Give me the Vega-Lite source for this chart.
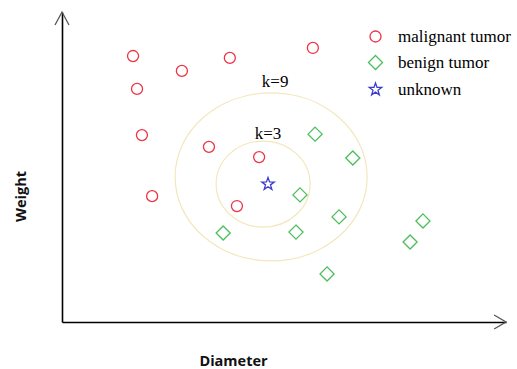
{
  "$schema": "https://vega.github.io/schema/vega-lite/v6.json",
  "width": 444,
  "height": 310,
  "autosize": {"type": "none"},
  "padding": {"left": 62, "top": 12, "right": 11, "bottom": 47},
  "background": "white",
  "config": {"view": {"stroke": null}},
  "datasets": {
    "points": [
      {"diameter": 16.0, "weight": 85.8, "type": "malignant tumor"},
      {"diameter": 27.0, "weight": 81.0, "type": "malignant tumor"},
      {"diameter": 37.8, "weight": 85.2, "type": "malignant tumor"},
      {"diameter": 16.9, "weight": 75.2, "type": "malignant tumor"},
      {"diameter": 18.0, "weight": 60.3, "type": "malignant tumor"},
      {"diameter": 33.1, "weight": 56.5, "type": "malignant tumor"},
      {"diameter": 20.3, "weight": 40.6, "type": "malignant tumor"},
      {"diameter": 39.4, "weight": 37.4, "type": "malignant tumor"},
      {"diameter": 44.4, "weight": 53.2, "type": "malignant tumor"},
      {"diameter": 56.5, "weight": 88.4, "type": "malignant tumor"},
      {"diameter": 57.0, "weight": 60.6, "type": "benign tumor"},
      {"diameter": 65.5, "weight": 52.9, "type": "benign tumor"},
      {"diameter": 53.6, "weight": 41.0, "type": "benign tumor"},
      {"diameter": 36.3, "weight": 28.7, "type": "benign tumor"},
      {"diameter": 52.7, "weight": 29.0, "type": "benign tumor"},
      {"diameter": 62.4, "weight": 33.9, "type": "benign tumor"},
      {"diameter": 78.4, "weight": 25.8, "type": "benign tumor"},
      {"diameter": 81.3, "weight": 32.6, "type": "benign tumor"},
      {"diameter": 59.7, "weight": 15.5, "type": "benign tumor"},
      {"diameter": 46.4, "weight": 44.5, "type": "unknown"}
    ],
    "labels": [
      {"diameter": 48.0, "weight": 77.4, "label": "k=9"},
      {"diameter": 46.4, "weight": 60.6, "label": "k=3"}
    ]
  },
  "encoding": {
    "x": {"field": "diameter", "type": "quantitative", "scale": {"domain": [0, 100]},
          "axis": {"orient": "bottom", "title": "Diameter", "grid": false, "ticks": false, "labels": false, "domainColor": "#000", "domainWidth": 1.6,
                   "titleFont": "Open Sans", "titleFontWeight": "bold", "titleFontSize": 14.5, "titleColor": "#111",
                   "titleX": 171, "titleY": 39, "titleAlign": "center", "titleBaseline": "middle"}},
    "y": {"field": "weight", "type": "quantitative", "scale": {"domain": [0, 100]},
          "axis": {"orient": "left", "title": "Weight", "grid": false, "ticks": false, "labels": false, "domainColor": "#000", "domainWidth": 1.6,
                   "titleFont": "Open Sans", "titleFontWeight": "bold", "titleFontSize": 14.5, "titleColor": "#111",
                   "titleX": -41, "titleY": 184, "titleAngle": -90, "titleAlign": "center", "titleBaseline": "middle"}}
  },
  "layer": [
    {
      "data": {"values": [{"diameter": 47.1, "weight": 46.8}]},
      "mark": {"type": "point", "filled": false, "shape": "M-1,0A1,0.875 0 1,1 1,0A1,0.875 0 1,1 -1,0Z", "size": 36864, "stroke": "#f3e7bd", "strokeWidth": 1.2, "opacity": 1}
    },
    {
      "data": {"values": [{"diameter": 45.3, "weight": 44.5}]},
      "mark": {"type": "point", "filled": false, "shape": "M-1,0A1,0.915 0 1,1 1,0A1,0.915 0 1,1 -1,0Z", "size": 8836, "stroke": "#f3e7bd", "strokeWidth": 1.2, "opacity": 1}
    },
    {
      "data": {"values": [{"diameter": 100, "weight": 0}]},
      "mark": {"type": "point", "filled": false, "shape": "M-1.7,-1L0,0L-1.7,1", "size": 196, "stroke": "#555", "strokeWidth": 1.3, "opacity": 1}
    },
    {
      "data": {"values": [{"diameter": 0, "weight": 100}]},
      "mark": {"type": "point", "filled": false, "shape": "M-1,1.85L0,0L1,1.85", "size": 196, "stroke": "#555", "strokeWidth": 1.3, "opacity": 1}
    },
    {
      "data": {"name": "labels"},
      "mark": {"type": "text", "font": "Liberation Serif", "fontSize": 17, "color": "#000", "align": "center", "baseline": "middle"},
      "encoding": {"text": {"field": "label"}}
    },
    {
      "data": {"name": "points"},
      "mark": {"type": "point", "filled": false, "strokeWidth": 1.3, "opacity": 1, "size": 150},
      "encoding": {
        "color": {"field": "type", "type": "nominal",
                  "scale": {"domain": ["malignant tumor", "benign tumor", "unknown"], "range": ["#ef3344", "#4cbf5c", "#3b3bd0"]},
                  "legend": {"title": null, "orient": "none", "legendX": 305, "legendY": 16, "padding": 0,
                             "labelFont": "Liberation Serif", "labelFontSize": 17, "labelColor": "#000", "labelOffset": 14,
                             "rowPadding": 7, "symbolSize": 150, "symbolStrokeWidth": 1.3}},
        "shape": {"field": "type", "type": "nominal",
                  "scale": {"domain": ["malignant tumor", "benign tumor", "unknown"],
                            "range": ["M-0.9,0A0.9,0.9 0 1,1 0.9,0A0.9,0.9 0 1,1 -0.9,0Z",
                                      "M0,-1.15L1.15,0L0,1.15L-1.15,0Z",
                                      "M0,-1.07L0.251,-0.347L1.018,-0.331L0.407,0.133L0.629,0.866L0,0.428L-0.629,0.866L-0.407,0.133L-1.018,-0.331L-0.251,-0.347Z"]}}
      }
    }
  ]
}
